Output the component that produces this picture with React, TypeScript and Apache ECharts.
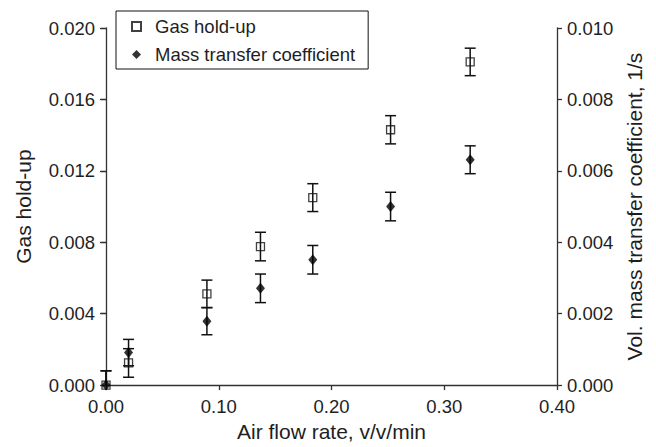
import React, { useEffect, useRef } from "react";
import * as echarts from "echarts";

const airFlow = [0, 0.02, 0.0895, 0.137, 0.1834, 0.2524, 0.323];
const gasHoldup = [0, 0.00124, 0.00511, 0.00776, 0.0105, 0.0143, 0.0181];
const gasHoldupErr = [0.0008, 0.0008, 0.00077, 0.0008, 0.00078, 0.00079, 0.00077];
const massTransfer = [0, 0.00091, 0.00179, 0.00271, 0.00351, 0.005, 0.00631];
const massTransferErr = [0.0004, 0.00037, 0.00038, 0.0004, 0.0004, 0.0004, 0.00039];

const FONT = "'Liberation Sans', Arial, sans-serif";
const TEXT = "#1e1e1e";
const LINE = "#333";

function errorRender(params: any, api: any) {
  const x = api.value(0);
  const y = api.value(1);
  const e = api.value(2);
  const clipped = y - e < 0;
  const lo = Math.max(y - e, 0);
  const hi = y + e;
  const pHi = api.coord([x, hi]);
  const pLo = api.coord([x, lo]);
  const half = 5.5;
  const style = { stroke: "#111", lineWidth: 1.5 };
  const children: any[] = [
    { type: "line", shape: { x1: pLo[0], y1: pLo[1], x2: pHi[0], y2: pHi[1] }, style },
    { type: "line", shape: { x1: pHi[0] - half, y1: pHi[1], x2: pHi[0] + half, y2: pHi[1] }, style },
  ];
  if (!clipped) {
    children.push({ type: "line", shape: { x1: pLo[0] - half, y1: pLo[1], x2: pLo[0] + half, y2: pLo[1] }, style });
  }
  return { type: "group", children };
}

export default function App() {
  const ref = useRef<HTMLDivElement>(null);
  useEffect(() => {
    if (!ref.current) return;
    const chart = echarts.init(ref.current, null, { renderer: "svg" });
    const gasPts = airFlow.map((x, i) => [x, gasHoldup[i]]);
    const gasErr = airFlow.map((x, i) => [x, gasHoldup[i], gasHoldupErr[i]]);
    const mtPts = airFlow.map((x, i) => [x, massTransfer[i]]);
    const mtErr = airFlow.map((x, i) => [x, massTransfer[i], massTransferErr[i]]);
    const tickLabel = { fontFamily: FONT, fontSize: 18.5, color: TEXT };
    chart.setOption({
      animation: false,
      backgroundColor: "#fff",
      textStyle: { fontFamily: FONT, color: TEXT },
      grid: { left: 106, right: 99, top: 28, bottom: 55, containLabel: false },
      legend: {
        left: 116,
        top: 11,
        orient: "vertical",
        data: ["Gas hold-up", "Mass transfer coefficient"],
        borderColor: "#111",
        borderWidth: 1,
        padding: [6, 13, 5, 15],
        itemWidth: 9,
        itemHeight: 9,
        itemGap: 9,
        textStyle: { fontFamily: FONT, fontSize: 18.5, color: TEXT, lineHeight: 18, padding: [0, 0, 0, 9] },
      },
      xAxis: {
        type: "value",
        min: 0,
        max: 0.4,
        interval: 0.1,
        name: "Air flow rate, v/v/min",
        nameLocation: "middle",
        nameGap: 34,
        nameTextStyle: { fontFamily: FONT, fontSize: 21, color: TEXT },
        axisLine: { show: true, onZero: false, lineStyle: { color: LINE, width: 1.3 } },
        axisTick: { show: true, inside: false, length: 5, lineStyle: { color: LINE, width: 1.3 } },
        axisLabel: { ...tickLabel, margin: 12, formatter: (v: number) => v.toFixed(2) },
        splitLine: { show: false },
      },
      yAxis: [
        {
          type: "value",
          min: 0,
          max: 0.02,
          interval: 0.004,
          position: "left",
          name: "Gas hold-up",
          nameLocation: "middle",
          nameGap: 72,
          nameTextStyle: { fontFamily: FONT, fontSize: 21, color: TEXT },
          axisLine: { show: true, onZero: false, lineStyle: { color: LINE, width: 1.3 } },
          axisTick: { show: true, inside: false, length: 6, lineStyle: { color: LINE, width: 1.3 } },
          axisLabel: { ...tickLabel, margin: 11, formatter: (v: number) => v.toFixed(3) },
          splitLine: { show: false },
        },
        {
          type: "value",
          min: 0,
          max: 0.01,
          interval: 0.002,
          position: "right",
          name: "Vol. mass transfer coefficient, 1/s",
          nameLocation: "middle",
          nameGap: 60,
          nameTextStyle: { fontFamily: FONT, fontSize: 21, color: TEXT },
          axisLine: { show: true, onZero: false, lineStyle: { color: LINE, width: 1.3 } },
          axisTick: { show: true, inside: false, length: 5, lineStyle: { color: LINE, width: 1.3 } },
          axisLabel: { ...tickLabel, margin: 10, formatter: (v: number) => v.toFixed(3) },
          splitLine: { show: false },
        },
        {
          type: "value",
          min: 0,
          max: 0.01,
          interval: 0.002,
          position: "right",
          axisLine: { show: false },
          axisTick: { show: true, inside: true, length: 5, lineStyle: { color: LINE, width: 1.3 } },
          axisLabel: { show: false },
          splitLine: { show: false },
        },
      ],
      series: [
        {
          name: "Gas hold-up error",
          type: "custom",
          yAxisIndex: 0,
          data: gasErr,
          renderItem: errorRender,
          clip: false,
          z: 3,
        },
        {
          name: "Mass transfer coefficient error",
          type: "custom",
          yAxisIndex: 1,
          data: mtErr,
          renderItem: errorRender,
          clip: false,
          z: 3,
        },
        {
          name: "Gas hold-up",
          type: "scatter",
          yAxisIndex: 0,
          data: gasPts,
          symbol: "rect",
          symbolSize: 8,
          itemStyle: { color: "rgba(255,255,255,0)", borderColor: "#111", borderWidth: 1.3 },
          z: 4,
        },
        {
          name: "Mass transfer coefficient",
          type: "scatter",
          yAxisIndex: 1,
          data: mtPts,
          symbol: "diamond",
          symbolSize: [9, 11],
          itemStyle: { color: "#000" },
          z: 4,
        },
      ],
    });
    return () => chart.dispose();
  }, []);
  return <div ref={ref} style={{ position: "absolute", left: 0, top: 0, width: 656, height: 447 }} />;
}
